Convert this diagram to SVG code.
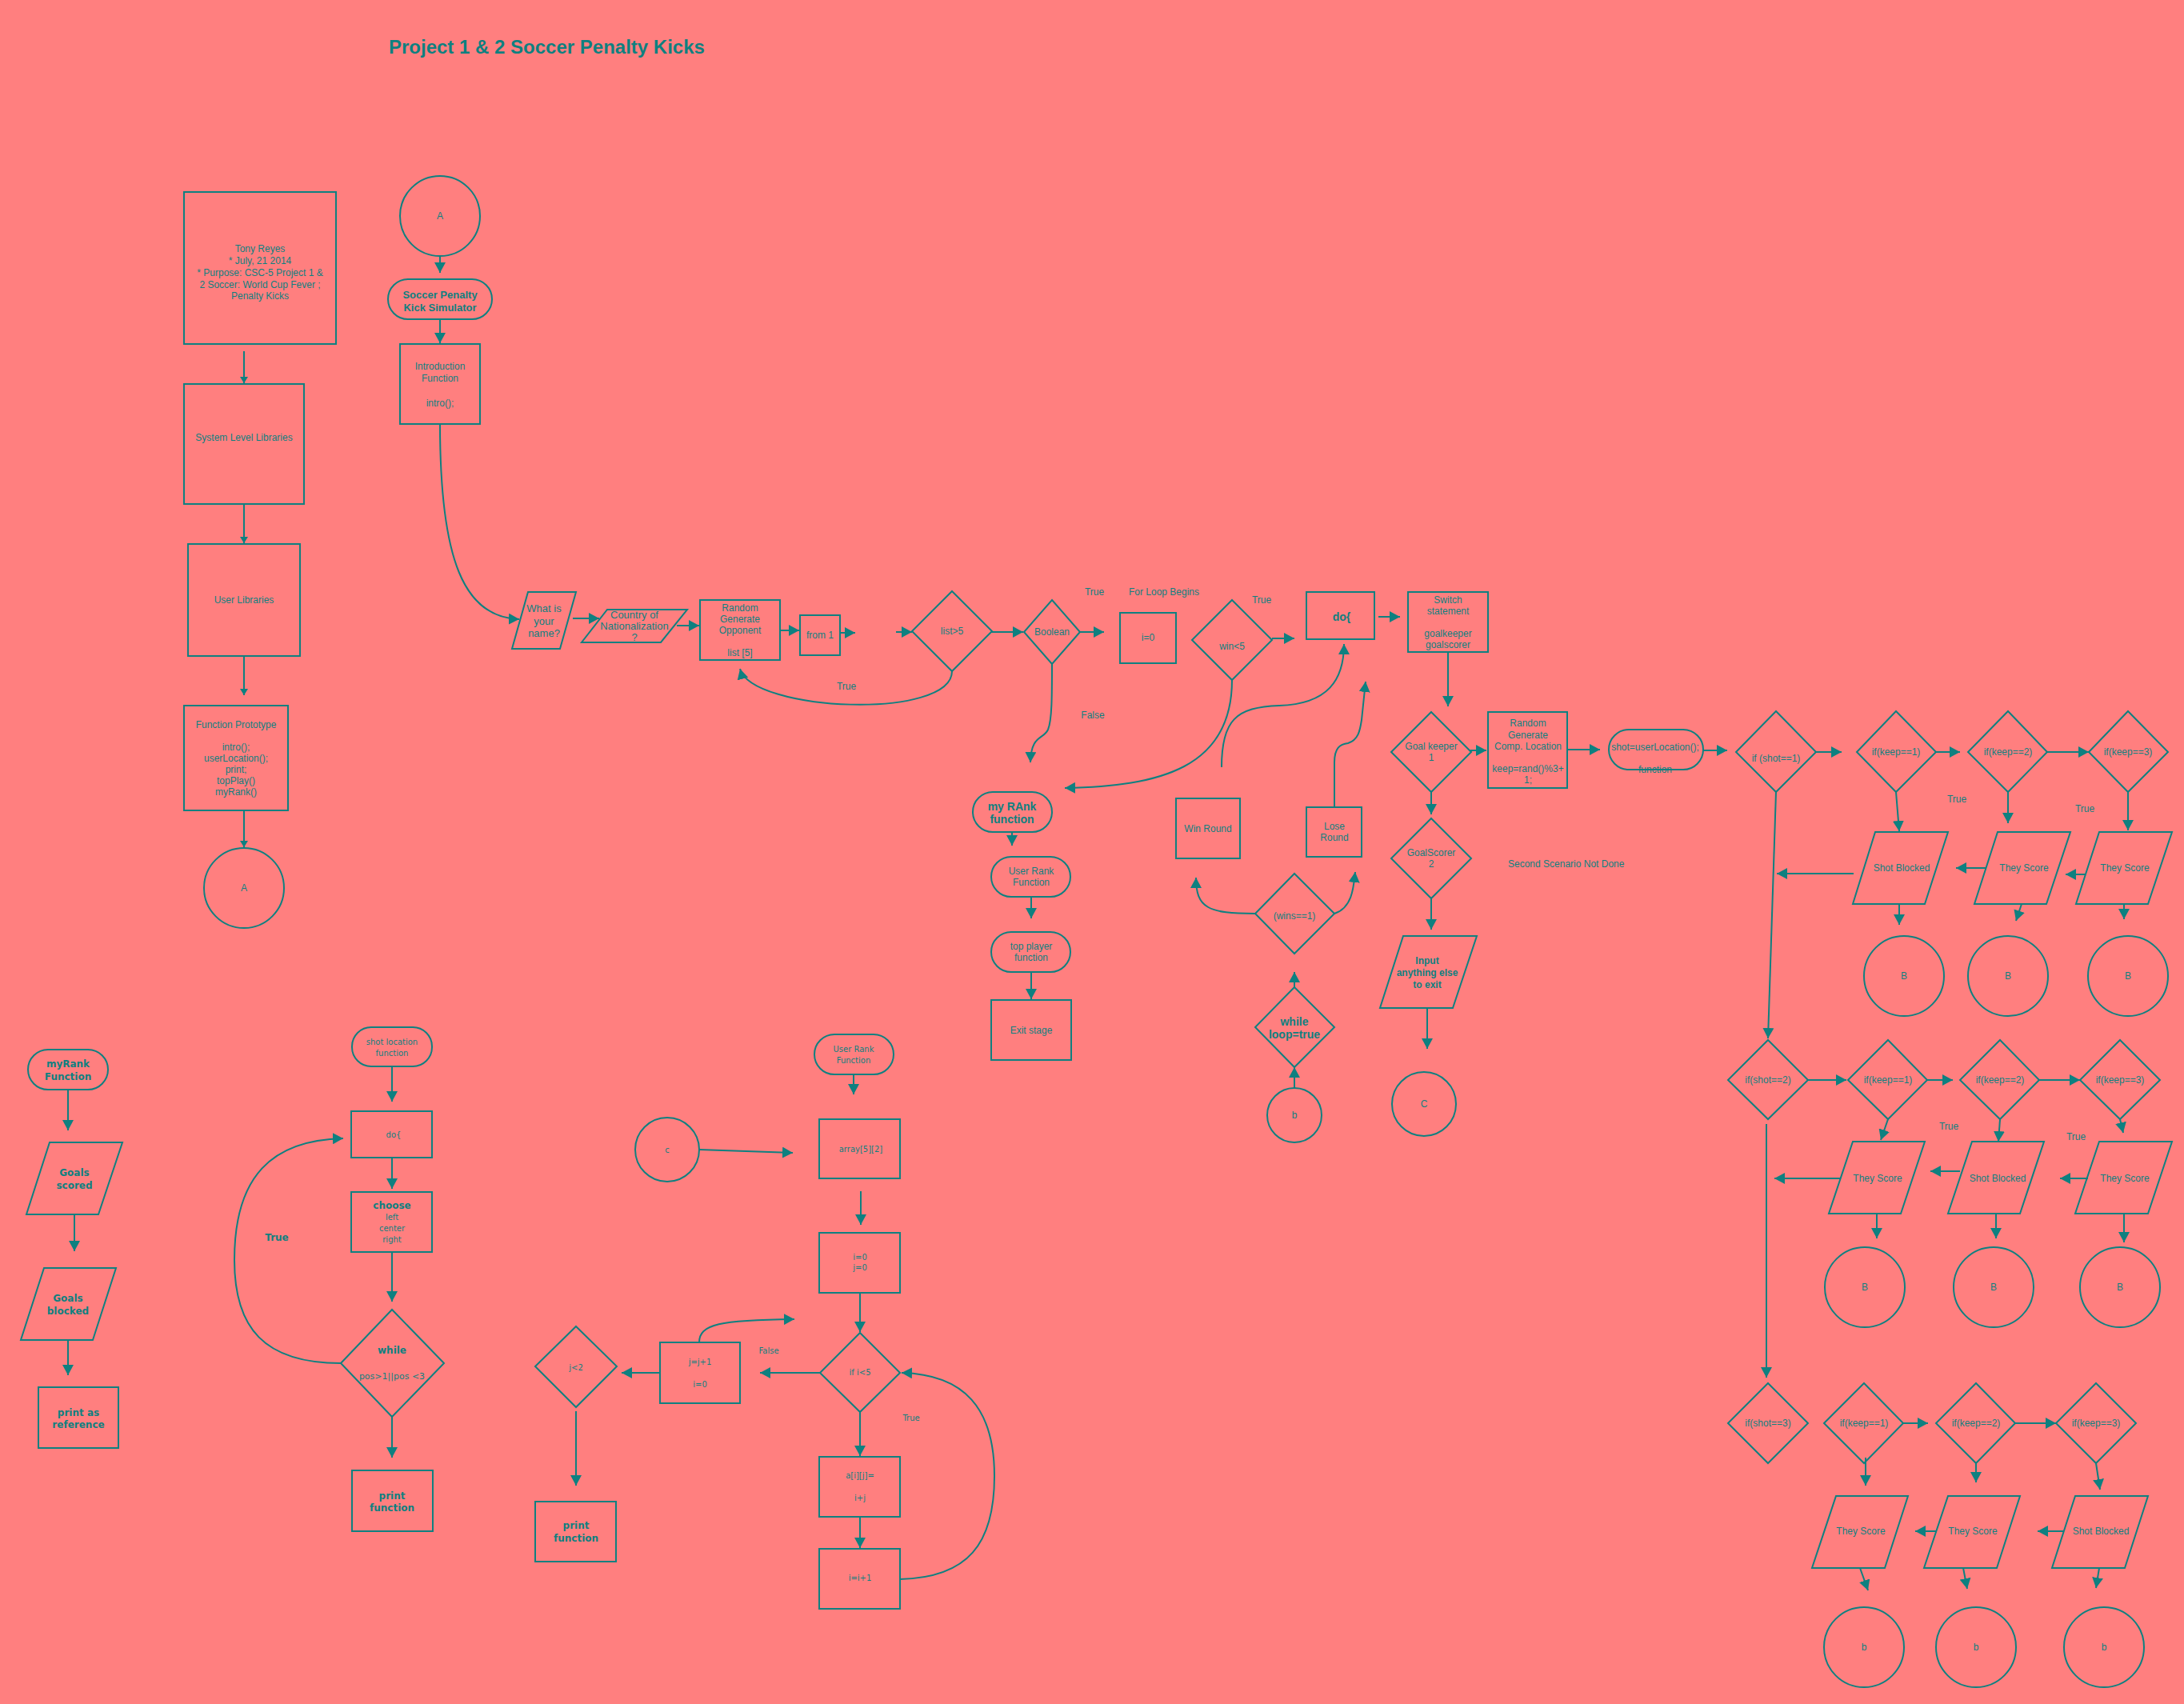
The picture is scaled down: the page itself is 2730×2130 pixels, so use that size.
<svg xmlns="http://www.w3.org/2000/svg" width="2730" height="2130" viewBox="0 0 2730 2130">
<style>
text{fill:#0E8080;font-family:"Liberation Sans",Arial,sans-serif;font-size:12px;text-anchor:middle;dominant-baseline:central}
.b{font-weight:bold;font-size:13px}
.b12{font-weight:bold;font-size:12px}
.b14{font-weight:bold;font-size:14px}
.m{font-size:13px}
.v{font-family:"DejaVu Sans",Verdana,sans-serif;font-size:10px}
.vb{font-family:"DejaVu Sans",Verdana,sans-serif;font-weight:bold;font-size:12px}
.l{text-anchor:start}
.title{font-weight:bold;font-size:24px;text-anchor:start}
.s rect,.s circle,.s polygon,.s path{fill:none;stroke:#0E8080;stroke-width:2}
#edges line,#edges path{fill:none;stroke:#0E8080;stroke-width:2;marker-end:url(#ah)}
#edges .sm{marker-end:url(#as)}
</style>
<defs>
<marker id="ah" markerUnits="userSpaceOnUse" markerWidth="14" markerHeight="14" refX="13" refY="7" orient="auto"><path d="M0,0 L13,7 L0,14 z" fill="#0E8080"/></marker>
<marker id="as" markerUnits="userSpaceOnUse" markerWidth="10" markerHeight="10" refX="8" refY="5" orient="auto"><path d="M0,0 L8,5 L0,10 z" fill="#0E8080"/></marker>
</defs>
<rect width="2730" height="2130" fill="#FF7F7F"/>
<text class="title" x="486" y="58">Project 1 &amp; 2 Soccer Penalty Kicks</text>

<g id="edges">
<line class="sm" x1="305" y1="439" x2="305" y2="479"/>
<line class="sm" x1="305" y1="630" x2="305" y2="679"/>
<line class="sm" x1="305" y1="820" x2="305" y2="869"/>
<line class="sm" x1="305" y1="1013" x2="305" y2="1059"/>
<line x1="550" y1="320" x2="550" y2="341"/>
<line x1="550" y1="399" x2="550" y2="429"/>
<path d="M550,530 C550,700 580,772 649,774"/>
<line x1="716" y1="773" x2="749" y2="773"/>
<line x1="846" y1="782" x2="874" y2="782"/>
<line x1="975" y1="788" x2="999" y2="788"/>
<line x1="1050" y1="791" x2="1069" y2="791"/>
<line x1="1120" y1="790" x2="1140" y2="790"/>
<line x1="1239" y1="790" x2="1279" y2="790"/>
<path d="M1190,839 C1190,900 940,890 925,836"/>
<line x1="1350" y1="790" x2="1380" y2="790"/>
<path d="M1315,829 C1315,870 1315,900 1310,912 C1304,925 1289,918 1288,953"/>
<path d="M1540,850 C1540,960 1450,983 1331,985"/>
<line x1="1590" y1="798" x2="1618" y2="798"/>
<line x1="1723" y1="771" x2="1750" y2="771"/>
<line x1="1810" y1="815" x2="1810" y2="883"/>
<path d="M1527,959 C1527,900 1545,884 1599,882 C1660,880 1680,850 1680,805"/>
<path d="M1668,1008 L1668,953 C1668,935 1675,930 1685,929 C1698,925 1700,913 1702,900 L1707,852"/>
<path d="M1569,1142 C1510,1142 1495,1135 1495,1097"/>
<path d="M1668,1142 C1690,1135 1692,1110 1694,1090"/>
<line x1="1618" y1="1234" x2="1618" y2="1215"/>
<line x1="1618" y1="1360" x2="1618" y2="1334"/>
<line x1="1838" y1="938" x2="1858" y2="938"/>
<line x1="1789" y1="989" x2="1789" y2="1018"/>
<line x1="1789" y1="1123" x2="1789" y2="1162"/>
<line x1="1784" y1="1260" x2="1784" y2="1311"/>
<line x1="1959" y1="937" x2="2000" y2="937"/>
<line x1="1265" y1="1040" x2="1265" y2="1057"/>
<line x1="1289" y1="1121" x2="1289" y2="1148"/>
<line x1="1289" y1="1215" x2="1289" y2="1249"/>
<line x1="2129" y1="938" x2="2159" y2="938"/>
<line x1="2269" y1="940" x2="2302" y2="940"/>
<line x1="2420" y1="940" x2="2450" y2="940"/>
<line x1="2559" y1="940" x2="2611" y2="940"/>
<line x1="2370" y1="990" x2="2374" y2="1039"/>
<line x1="2510" y1="990" x2="2510" y2="1029"/>
<line x1="2660" y1="990" x2="2660" y2="1038"/>
<line x1="2606" y1="1093" x2="2582" y2="1093"/>
<line x1="2482" y1="1085" x2="2445" y2="1085"/>
<line x1="2317" y1="1092" x2="2221" y2="1092"/>
<line x1="2374" y1="1130" x2="2374" y2="1156"/>
<line x1="2527" y1="1130" x2="2520" y2="1151"/>
<line x1="2655" y1="1130" x2="2655" y2="1149"/>
<line x1="2220" y1="990" x2="2210" y2="1298"/>
<line x1="2260" y1="1350" x2="2308" y2="1350"/>
<line x1="2409" y1="1350" x2="2441" y2="1350"/>
<line x1="2549" y1="1350" x2="2600" y2="1350"/>
<line x1="2360" y1="1399" x2="2351" y2="1425"/>
<line x1="2500" y1="1399" x2="2498" y2="1427"/>
<line x1="2650" y1="1399" x2="2654" y2="1416"/>
<line x1="2610" y1="1473" x2="2575" y2="1473"/>
<line x1="2450" y1="1464" x2="2413" y2="1464"/>
<line x1="2301" y1="1473" x2="2218" y2="1473"/>
<line x1="2346" y1="1517" x2="2346" y2="1548"/>
<line x1="2495" y1="1517" x2="2495" y2="1548"/>
<line x1="2655" y1="1517" x2="2655" y2="1553"/>
<line x1="2208" y1="1405" x2="2208" y2="1722"/>
<line x1="2379" y1="1779" x2="2410" y2="1779"/>
<line x1="2519" y1="1779" x2="2570" y2="1779"/>
<line x1="2332" y1="1822" x2="2332" y2="1857"/>
<line x1="2470" y1="1829" x2="2470" y2="1853"/>
<line x1="2620" y1="1829" x2="2625" y2="1862"/>
<line x1="2421" y1="1914" x2="2394" y2="1914"/>
<line x1="2580" y1="1914" x2="2547" y2="1914"/>
<line x1="2325" y1="1960" x2="2335" y2="1988"/>
<line x1="2454" y1="1960" x2="2459" y2="1986"/>
<line x1="2624" y1="1960" x2="2620" y2="1985"/>
<line x1="85" y1="1362" x2="85" y2="1413"/>
<line x1="93" y1="1518" x2="93" y2="1564"/>
<line x1="85" y1="1675" x2="85" y2="1719"/>
<line x1="490" y1="1333" x2="490" y2="1377"/>
<line x1="490" y1="1447" x2="490" y2="1486"/>
<line x1="490" y1="1565" x2="490" y2="1627"/>
<path d="M426,1704 C330,1704 293,1660 293,1575 C293,1470 340,1425 429,1423"/>
<line x1="490" y1="1771" x2="490" y2="1822"/>
<line x1="1067" y1="1343" x2="1067" y2="1368"/>
<line x1="874" y1="1437" x2="991" y2="1441"/>
<line x1="1076" y1="1489" x2="1076" y2="1531"/>
<line x1="1075" y1="1616" x2="1075" y2="1665"/>
<line x1="1025" y1="1716" x2="950" y2="1716"/>
<path d="M874,1678 C874,1655 900,1650 993,1649"/>
<line x1="825" y1="1716" x2="777" y2="1716"/>
<line x1="720" y1="1764" x2="720" y2="1857"/>
<line x1="1075" y1="1765" x2="1075" y2="1820"/>
<line x1="1075" y1="1896" x2="1075" y2="1935"/>
<path d="M1125,1974 C1210,1972 1243,1930 1243,1845 C1243,1760 1205,1718 1127,1716"/>
</g>

<g id="labels">
<text x="1058" y="858">True</text>
<text x="1368" y="740">True</text>
<text x="1455" y="740">For Loop Begins</text>
<text x="1577" y="750">True</text>
<text x="1366" y="894">False</text>
<text class="l" x="1885" y="1080">Second Scenario Not Done</text>
<text x="2446" y="999">True</text>
<text x="2606" y="1011">True</text>
<text x="2436" y="1408">True</text>
<text x="2595" y="1421">True</text>
<text class="vb" x="346" y="1547">True</text>
<text class="v" x="961" y="1688">False</text>
<text class="v" x="1139" y="1772">True</text>
</g>

<g id="n_tony" class="s"><rect x="230" y="240" width="190" height="190"/>
<text x="325" y="311">Tony Reyes</text><text x="325" y="326">* July, 21 2014</text><text x="325" y="341">* Purpose: CSC-5 Project 1 &amp;</text><text x="325" y="355.5">2 Soccer: World Cup Fever ;</text><text x="325" y="370">Penalty Kicks</text></g>
<g id="n_syslib" class="s"><rect x="230" y="480" width="150" height="150"/><text x="305" y="547">System Level Libraries</text></g>
<g id="n_userlib" class="s"><rect x="235" y="680" width="140" height="140"/><text x="305" y="750">User Libraries</text></g>
<g id="n_proto" class="s"><rect x="230" y="882" width="130" height="131"/>
<text x="295" y="906">Function Prototype</text><text x="295" y="934">intro();</text><text x="295" y="948">userLocation();</text><text x="295" y="962">print;</text><text x="295" y="976">topPlay()</text><text x="295" y="990">myRank()</text></g>
<g id="n_A2" class="s"><circle cx="305" cy="1110" r="50"/><text x="305" y="1110">A</text></g>

<g id="n_A1" class="s"><circle cx="550" cy="270" r="50"/><text x="550" y="270">A</text></g>
<g id="n_sim" class="s"><rect x="485" y="349" width="130" height="50" rx="25"/><text class="b" x="550" y="368">Soccer Penalty</text><text class="b" x="550" y="384">Kick Simulator</text></g>
<g id="n_intro" class="s"><rect x="500" y="430" width="100" height="100"/><text x="550" y="458">Introduction</text><text x="550" y="473">Function</text><text x="550" y="504">intro();</text></g>
<g id="n_name" class="s"><polygon points="660,740 720,740 700,811 640,811"/><text class="m" x="680" y="760">What is</text><text class="m" x="680" y="776">your</text><text class="m" x="680" y="791">name?</text></g>
<g id="n_country" class="s"><polygon points="759,762 859,762 826,803 727,803"/><text class="m" x="793" y="768">Country of</text><text class="m" x="793" y="782">Nationalization</text><text class="m" x="793" y="796">?</text></g>
<g id="n_rgo" class="s"><rect x="875" y="750" width="100" height="75"/><text x="925" y="760">Random</text><text x="925" y="774">Generate</text><text x="925" y="788">Opponent</text><text x="925" y="816">list [5]</text></g>
<g id="n_from1" class="s"><rect x="1000" y="769" width="50" height="50"/><text x="1025" y="794">from 1</text></g>
<g id="n_list5" class="s"><polygon points="1190,739 1240,789 1190,839 1140,789"/><text x="1190" y="789">list&gt;5</text></g>
<g id="n_bool" class="s"><polygon points="1315,750 1350,790 1315,830 1280,790"/><text x="1315" y="790">Boolean</text></g>
<g id="n_i0" class="s"><rect x="1400" y="766" width="70" height="63"/><text x="1435" y="797">i=0</text></g>
<g id="n_win5" class="s"><polygon points="1540,750 1590,800 1540,850 1490,800"/><text x="1540" y="808">win&lt;5</text></g>
<g id="n_do" class="s"><rect x="1633" y="740" width="85" height="59"/><text class="b14" x="1677" y="771">do{</text></g>
<g id="n_switch" class="s"><rect x="1760" y="740" width="100" height="75"/><text x="1810" y="750">Switch</text><text x="1810" y="764">statement</text><text x="1810" y="792">goalkeeper</text><text x="1810" y="806">goalscorer</text></g>
<g id="n_win" class="s"><rect x="1470" y="998" width="80" height="75"/><text x="1510" y="1036">Win Round</text></g>
<g id="n_lose" class="s"><rect x="1633" y="1009" width="69" height="62"/><text x="1668" y="1033">Lose</text><text x="1668" y="1047">Round</text></g>
<g id="n_wins1" class="s"><polygon points="1618,1092 1668,1142 1618,1192 1569,1142"/><text x="1618" y="1145">(wins==1)</text></g>
<g id="n_while" class="s"><polygon points="1618,1234 1668,1284 1618,1334 1569,1284"/><text class="b14" x="1618" y="1277">while</text><text class="b14" x="1618" y="1293">loop=true</text></g>
<g id="n_b" class="s"><circle cx="1618" cy="1394" r="34"/><text x="1618" y="1394">b</text></g>
<g id="n_gk" class="s"><polygon points="1789,890 1839,940 1789,990 1739,940"/><text x="1789" y="933">Goal keeper</text><text x="1789" y="947">1</text></g>
<g id="n_rgc" class="s"><rect x="1860" y="890" width="99" height="95"/><text x="1910" y="904">Random</text><text x="1910" y="919">Generate</text><text x="1910" y="933">Comp. Location</text><text x="1910" y="961">keep=rand()%3+</text><text x="1910" y="975">1;</text></g>
<g id="n_gs" class="s"><polygon points="1789,1023 1839,1073 1789,1123 1739,1073"/><text x="1789" y="1066">GoalScorer</text><text x="1789" y="1080">2</text></g>
<g id="n_input" class="s"><polygon points="1754,1170 1846,1170 1816,1260 1725,1260"/><text class="b12" x="1784" y="1201">Input</text><text class="b12" x="1784" y="1216">anything else</text><text class="b12" x="1784" y="1231">to exit</text></g>
<g id="n_C" class="s"><circle cx="1780" cy="1380" r="40"/><text x="1780" y="1380">C</text></g>
<g id="n_myrank" class="s"><rect x="1216" y="990" width="99" height="50" rx="25"/><text class="b14" x="1265" y="1008">my RAnk</text><text class="b14" x="1265" y="1024">function</text></g>
<g id="n_urf" class="s"><rect x="1239" y="1071" width="99" height="50" rx="25"/><text x="1289" y="1089">User Rank</text><text x="1289" y="1103">Function</text></g>
<g id="n_tpf" class="s"><rect x="1239" y="1165" width="99" height="50" rx="25"/><text x="1289" y="1183">top player</text><text x="1289" y="1197">function</text></g>
<g id="n_exit" class="s"><rect x="1239" y="1250" width="100" height="75"/><text x="1289" y="1288">Exit stage</text></g>

<g id="n_shotloc" class="s"><rect x="2011" y="912" width="118" height="50" rx="25"/><text x="2069" y="934">shot=userLocation();</text><text x="2069" y="962">function</text></g>
<g id="n_s1" class="s"><polygon points="2220,889 2270,940 2220,990 2170,940"/><text x="2220" y="948">if (shot==1)</text></g>
<g id="n_s1k1" class="s"><polygon points="2370,889 2420,940 2370,990 2321,940"/><text x="2370" y="940">if(keep==1)</text></g>
<g id="n_s1k2" class="s"><polygon points="2510,889 2559,940 2510,990 2460,940"/><text x="2510" y="940">if(keep==2)</text></g>
<g id="n_s1k3" class="s"><polygon points="2660,889 2710,940 2660,990 2611,940"/><text x="2660" y="940">if(keep==3)</text></g>
<g id="n_s1p1" class="s"><polygon points="2344,1040 2435,1040 2406,1130 2316,1130"/><text x="2377" y="1085">Shot Blocked</text></g>
<g id="n_s1p2" class="s"><polygon points="2497,1040 2588,1040 2558,1130 2468,1130"/><text x="2530" y="1085">They Score</text></g>
<g id="n_s1p3" class="s"><polygon points="2624,1040 2715,1040 2685,1130 2595,1130"/><text x="2656" y="1085">They Score</text></g>
<g id="n_s1b1" class="s"><circle cx="2380" cy="1220" r="50"/><text x="2380" y="1220">B</text></g>
<g id="n_s1b2" class="s"><circle cx="2510" cy="1220" r="50"/><text x="2510" y="1220">B</text></g>
<g id="n_s1b3" class="s"><circle cx="2660" cy="1220" r="50"/><text x="2660" y="1220">B</text></g>

<g id="n_s2" class="s"><polygon points="2210,1300 2260,1350 2210,1399 2160,1350"/><text x="2210" y="1350">if(shot==2)</text></g>
<g id="n_s2k1" class="s"><polygon points="2360,1300 2409,1350 2360,1399 2310,1350"/><text x="2360" y="1350">if(keep==1)</text></g>
<g id="n_s2k2" class="s"><polygon points="2500,1300 2549,1350 2500,1399 2450,1350"/><text x="2500" y="1350">if(keep==2)</text></g>
<g id="n_s2k3" class="s"><polygon points="2650,1300 2700,1350 2650,1399 2600,1350"/><text x="2650" y="1350">if(keep==3)</text></g>
<g id="n_s2p1" class="s"><polygon points="2316,1427 2406,1427 2376,1517 2286,1517"/><text x="2347" y="1473">They Score</text></g>
<g id="n_s2p2" class="s"><polygon points="2465,1427 2555,1427 2525,1517 2435,1517"/><text x="2497" y="1473">Shot Blocked</text></g>
<g id="n_s2p3" class="s"><polygon points="2624,1427 2715,1427 2685,1517 2594,1517"/><text x="2656" y="1473">They Score</text></g>
<g id="n_s2b1" class="s"><circle cx="2331" cy="1609" r="50"/><text x="2331" y="1609">B</text></g>
<g id="n_s2b2" class="s"><circle cx="2492" cy="1609" r="50"/><text x="2492" y="1609">B</text></g>
<g id="n_s2b3" class="s"><circle cx="2650" cy="1609" r="50"/><text x="2650" y="1609">B</text></g>

<g id="n_s3" class="s"><polygon points="2210,1729 2260,1779 2210,1829 2160,1779"/><text x="2210" y="1779">if(shot==3)</text></g>
<g id="n_s3k1" class="s"><polygon points="2330,1729 2379,1779 2330,1829 2280,1779"/><text x="2330" y="1779">if(keep==1)</text></g>
<g id="n_s3k2" class="s"><polygon points="2470,1729 2519,1779 2470,1829 2420,1779"/><text x="2470" y="1779">if(keep==2)</text></g>
<g id="n_s3k3" class="s"><polygon points="2620,1729 2670,1779 2620,1829 2570,1779"/><text x="2620" y="1779">if(keep==3)</text></g>
<g id="n_s3p1" class="s"><polygon points="2295,1870 2385,1870 2356,1960 2265,1960"/><text x="2326" y="1914">They Score</text></g>
<g id="n_s3p2" class="s"><polygon points="2435,1870 2525,1870 2496,1960 2405,1960"/><text x="2466" y="1914">They Score</text></g>
<g id="n_s3p3" class="s"><polygon points="2594,1870 2685,1870 2656,1960 2565,1960"/><text x="2626" y="1914">Shot Blocked</text></g>
<g id="n_s3b1" class="s"><circle cx="2330" cy="2059" r="50"/><text x="2330" y="2059">b</text></g>
<g id="n_s3b2" class="s"><circle cx="2470" cy="2059" r="50"/><text x="2470" y="2059">b</text></g>
<g id="n_s3b3" class="s"><circle cx="2630" cy="2059" r="50"/><text x="2630" y="2059">b</text></g>

<g id="n_myrankF" class="s"><rect x="35" y="1312" width="100" height="50" rx="25"/><text class="vb" x="85" y="1330">myRank</text><text class="vb" x="85" y="1346">Function</text></g>
<g id="n_gsc" class="s"><polygon points="62,1428 153,1428 123,1518 33,1518"/><text class="vb" x="93" y="1466">Goals</text><text class="vb" x="93" y="1482">scored</text></g>
<g id="n_gbl" class="s"><polygon points="55,1585 145,1585 116,1675 26,1675"/><text class="vb" x="85" y="1623">Goals</text><text class="vb" x="85" y="1639">blocked</text></g>
<g id="n_par" class="s"><rect x="48" y="1734" width="100" height="76"/><text class="vb" x="98" y="1766">print as</text><text class="vb" x="98" y="1781">reference</text></g>

<g id="n_slf" class="s"><rect x="440" y="1284" width="100" height="49" rx="24"/><text class="v" x="490" y="1302">shot location</text><text class="v" x="490" y="1316">function</text></g>
<g id="n_do2" class="s"><rect x="439" y="1389" width="101" height="58"/><text class="v" x="492" y="1418">do{</text></g>
<g id="n_choose" class="s"><rect x="439" y="1490" width="101" height="75"/><text class="vb" x="490" y="1507">choose</text><text class="v" x="490" y="1521">left</text><text class="v" x="490" y="1535">center</text><text class="v" x="490" y="1549">right</text></g>
<g id="n_while2" class="s"><polygon points="490,1637 555,1704 490,1771 426,1704"/><text class="vb" x="490" y="1688">while</text><text class="v" x="490" y="1720" style="font-size:11px">pos&gt;1||pos &lt;3</text></g>
<g id="n_pf1" class="s"><rect x="440" y="1838" width="101" height="76"/><text class="vb" x="490" y="1870">print</text><text class="vb" x="490" y="1885">function</text></g>

<g id="n_urf2" class="s"><rect x="1018" y="1293" width="99" height="50" rx="25"/><text class="v" x="1067" y="1311">User Rank</text><text class="v" x="1067" y="1325">Function</text></g>
<g id="n_c" class="s"><circle cx="834" cy="1437" r="40"/><text class="v" x="834" y="1437">c</text></g>
<g id="n_arr" class="s"><rect x="1024" y="1399" width="101" height="74"/><text class="v" x="1076" y="1436">array[5][2]</text></g>
<g id="n_ij" class="s"><rect x="1024" y="1541" width="101" height="75"/><text class="v" x="1075" y="1571">i=0</text><text class="v" x="1075" y="1584">j=0</text></g>
<g id="n_if5" class="s"><polygon points="1075,1666 1125,1716 1075,1765 1025,1716"/><text class="v" x="1075" y="1715">if i&lt;5</text></g>
<g id="n_jj" class="s"><rect x="825" y="1678" width="100" height="76"/><text class="v" x="875" y="1702">j=j+1</text><text class="v" x="875" y="1730">i=0</text></g>
<g id="n_j2" class="s"><polygon points="720,1658 771,1708 720,1759 669,1708"/><text class="v" x="720" y="1709">j&lt;2</text></g>
<g id="n_pf2" class="s"><rect x="669" y="1877" width="101" height="75"/><text class="vb" x="720" y="1907">print</text><text class="vb" x="720" y="1923">function</text></g>
<g id="n_aij" class="s"><rect x="1024" y="1821" width="101" height="75"/><text class="v" x="1075" y="1844">a[i][j]=</text><text class="v" x="1075" y="1872">i+j</text></g>
<g id="n_ii" class="s"><rect x="1024" y="1936" width="101" height="75"/><text class="v" x="1075" y="1972">i=i+1</text></g>
</svg>
